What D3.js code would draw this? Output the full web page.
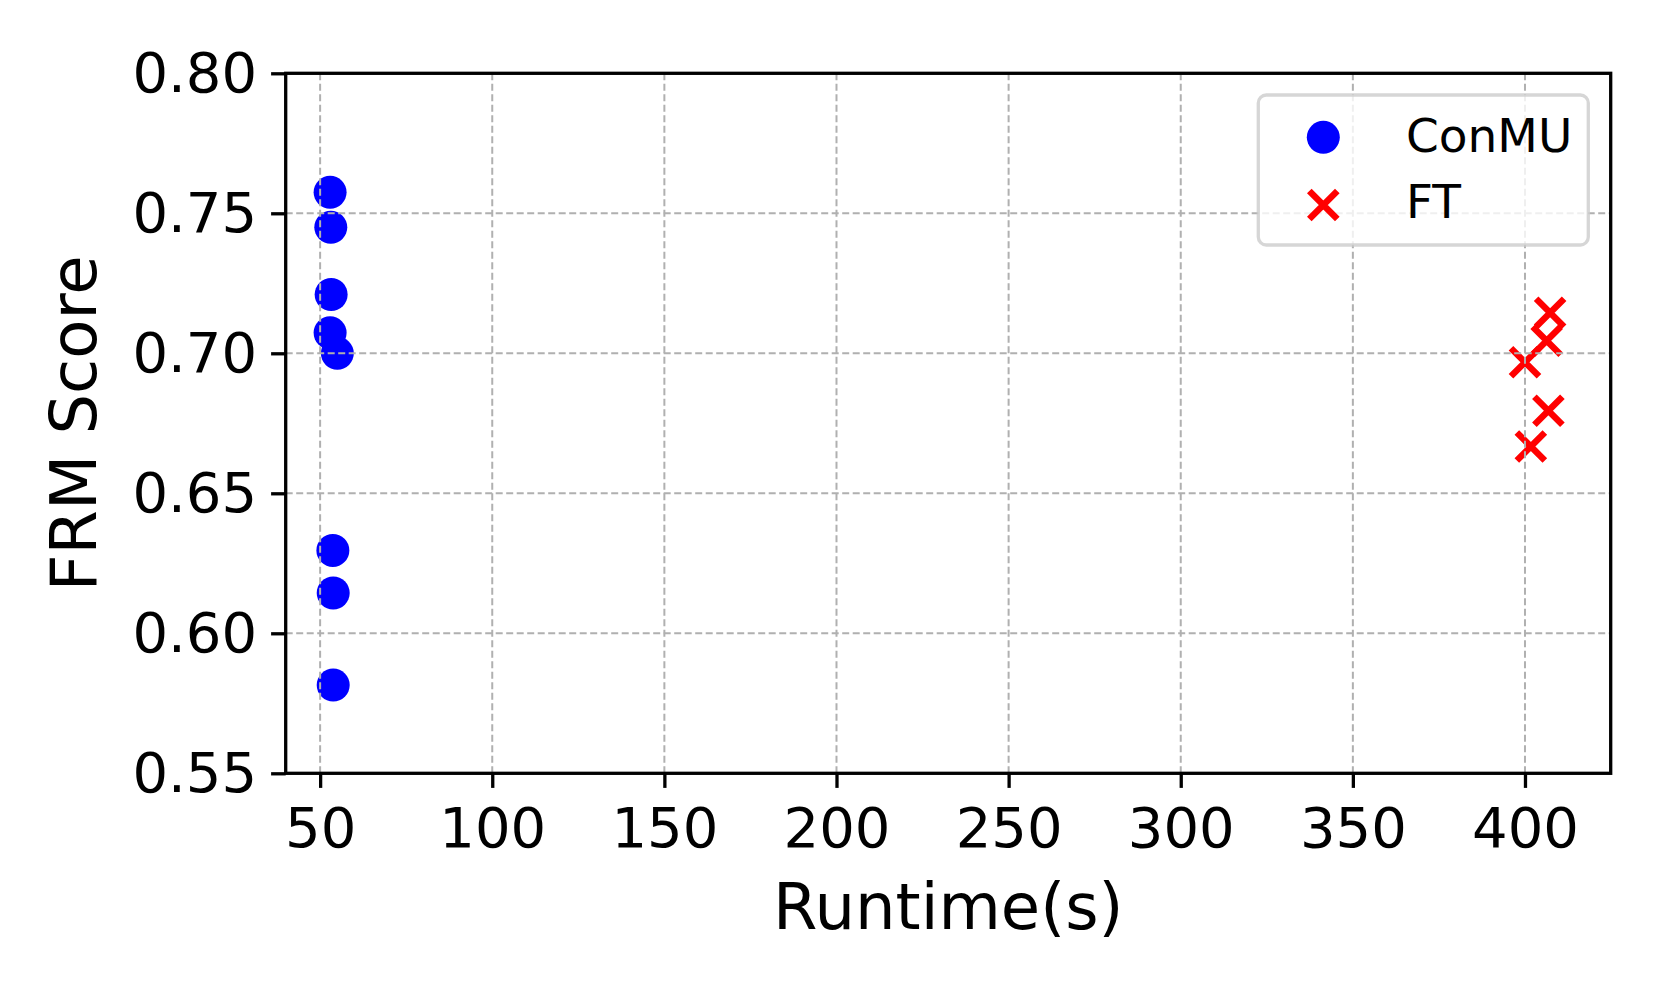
<html>
<head>
<meta charset="utf-8">
<title>FRM score vs runtime</title>
<script src="https://cdn.jsdelivr.net/npm/d3@7"></script>
<style>
body { margin:0; background:#fff; }
text { font-family:"DejaVu Sans", sans-serif; fill:#000; }
.grid line { stroke:#b0b0b0; stroke-width:2; stroke-dasharray:7,3.5; }
</style>
</head>
<body>
<script>
// values
var conmuRuntime = [52.9, 53.1, 53.2, 52.9, 55.0, 53.7, 53.8, 53.8];
var conmuFRM = [0.7575, 0.745, 0.721, 0.7073, 0.700, 0.6296, 0.6144, 0.5815];
var ftRuntime = [407.3, 406.3, 400.0, 406.8, 401.7];
var ftFRM = [0.7145, 0.7045, 0.6968, 0.6795, 0.6667];
var xTicks = [50, 100, 150, 200, 250, 300, 350, 400];
var yTicks = [0.55, 0.60, 0.65, 0.70, 0.75, 0.80];
var seriesNames = ['ConMU', 'FT'];

var W = 1661, H = 997,
	L = 285.7, R = 1610.7, T = 73.3, B = 773.3;

var x = d3.scaleLinear().domain([40, 424.9]).range([L, R]),
	y = d3.scaleLinear().domain([0.55, 0.80]).range([B, T]);

var svg = d3.select('body').append('svg').attr('width', W).attr('height', H);

var conmu = conmuRuntime.map(function(v, i){ return {x:v, y:conmuFRM[i]}; }),
	ft = ftRuntime.map(function(v, i){ return {x:v, y:ftFRM[i]}; });

// points (drawn under the grid, like matplotlib)
svg.append('g').selectAll('circle')
	.data(conmu).enter().append('circle')
		.attr('cx', function(d){ return x(d.x); })
		.attr('cy', function(d){ return y(d.y); })
		.attr('r', 16.5)
		.attr('fill', '#0000ff');

var cross = function(sel, s){
	sel.append('path')
		.attr('d', 'M' + (-s) + ',' + (-s) + 'L' + s + ',' + s + 'M' + (-s) + ',' + s + 'L' + s + ',' + (-s))
		.attr('stroke', '#ff0000').attr('stroke-width', 6.5).attr('fill', 'none');
};

svg.append('g').selectAll('g')
	.data(ft).enter().append('g')
		.attr('transform', function(d){ return 'translate(' + x(d.x) + ',' + y(d.y) + ')'; })
		.call(cross, 14);

// grid
var grid = svg.append('g').attr('class', 'grid');
grid.selectAll('.gx').data(xTicks).enter().append('line')
	.attr('x1', x).attr('x2', x).attr('y1', T).attr('y2', B);
grid.selectAll('.gy').data(yTicks).enter().append('line')
	.attr('y1', y).attr('y2', y).attr('x1', L).attr('x2', R);

// axes
var xAxis = svg.append('g').attr('transform', 'translate(0,' + B + ')')
	.call(d3.axisBottom(x).tickValues(xTicks).tickSize(14.6).tickPadding(19).tickFormat(d3.format('d')));
var yAxis = svg.append('g').attr('transform', 'translate(' + L + ',0)')
	.call(d3.axisLeft(y).tickValues(yTicks).tickSize(14.6).tickPadding(14).tickFormat(d3.format('.2f')));
[xAxis, yAxis].forEach(function(a){
	a.select('.domain').remove();
	a.selectAll('.tick line').attr('stroke', '#000').attr('stroke-width', 3.3);
	a.selectAll('.tick text').attr('font-size', 56).attr('font-family', '"DejaVu Sans", sans-serif').attr('fill', '#000');
});

svg.append('rect').attr('x', L).attr('y', T).attr('width', R - L).attr('height', B - T)
	.attr('fill', 'none').attr('stroke', '#000').attr('stroke-width', 3.3);

// labels
svg.append('text').attr('x', (L + R) / 2).attr('y', 929)
	.attr('text-anchor', 'middle').attr('font-size', 64).text('Runtime(s)');
svg.append('text').attr('transform', 'translate(96,' + (T + B) / 2 + ') rotate(-90)')
	.attr('text-anchor', 'middle').attr('font-size', 64).text('FRM Score');

// legend
var lg = svg.append('g');
lg.append('rect').attr('x', 1258.3).attr('y', 95).attr('width', 330).attr('height', 150)
	.attr('rx', 8).attr('fill', '#fff').attr('fill-opacity', 0.8)
	.attr('stroke', '#cccccc').attr('stroke-opacity', 0.8).attr('stroke-width', 3.3);
lg.append('circle').attr('cx', 1323.3).attr('cy', 137.3).attr('r', 16.5).attr('fill', '#0000ff');
lg.append('g').attr('transform', 'translate(1323.3,205)').call(cross, 14);
lg.selectAll('text').data(seriesNames).enter().append('text')
	.attr('x', 1406).attr('y', function(d, i){ return 152 + i * 66; })
	.attr('font-size', 47).text(function(d){ return d; });
</script>
</body>
</html>
